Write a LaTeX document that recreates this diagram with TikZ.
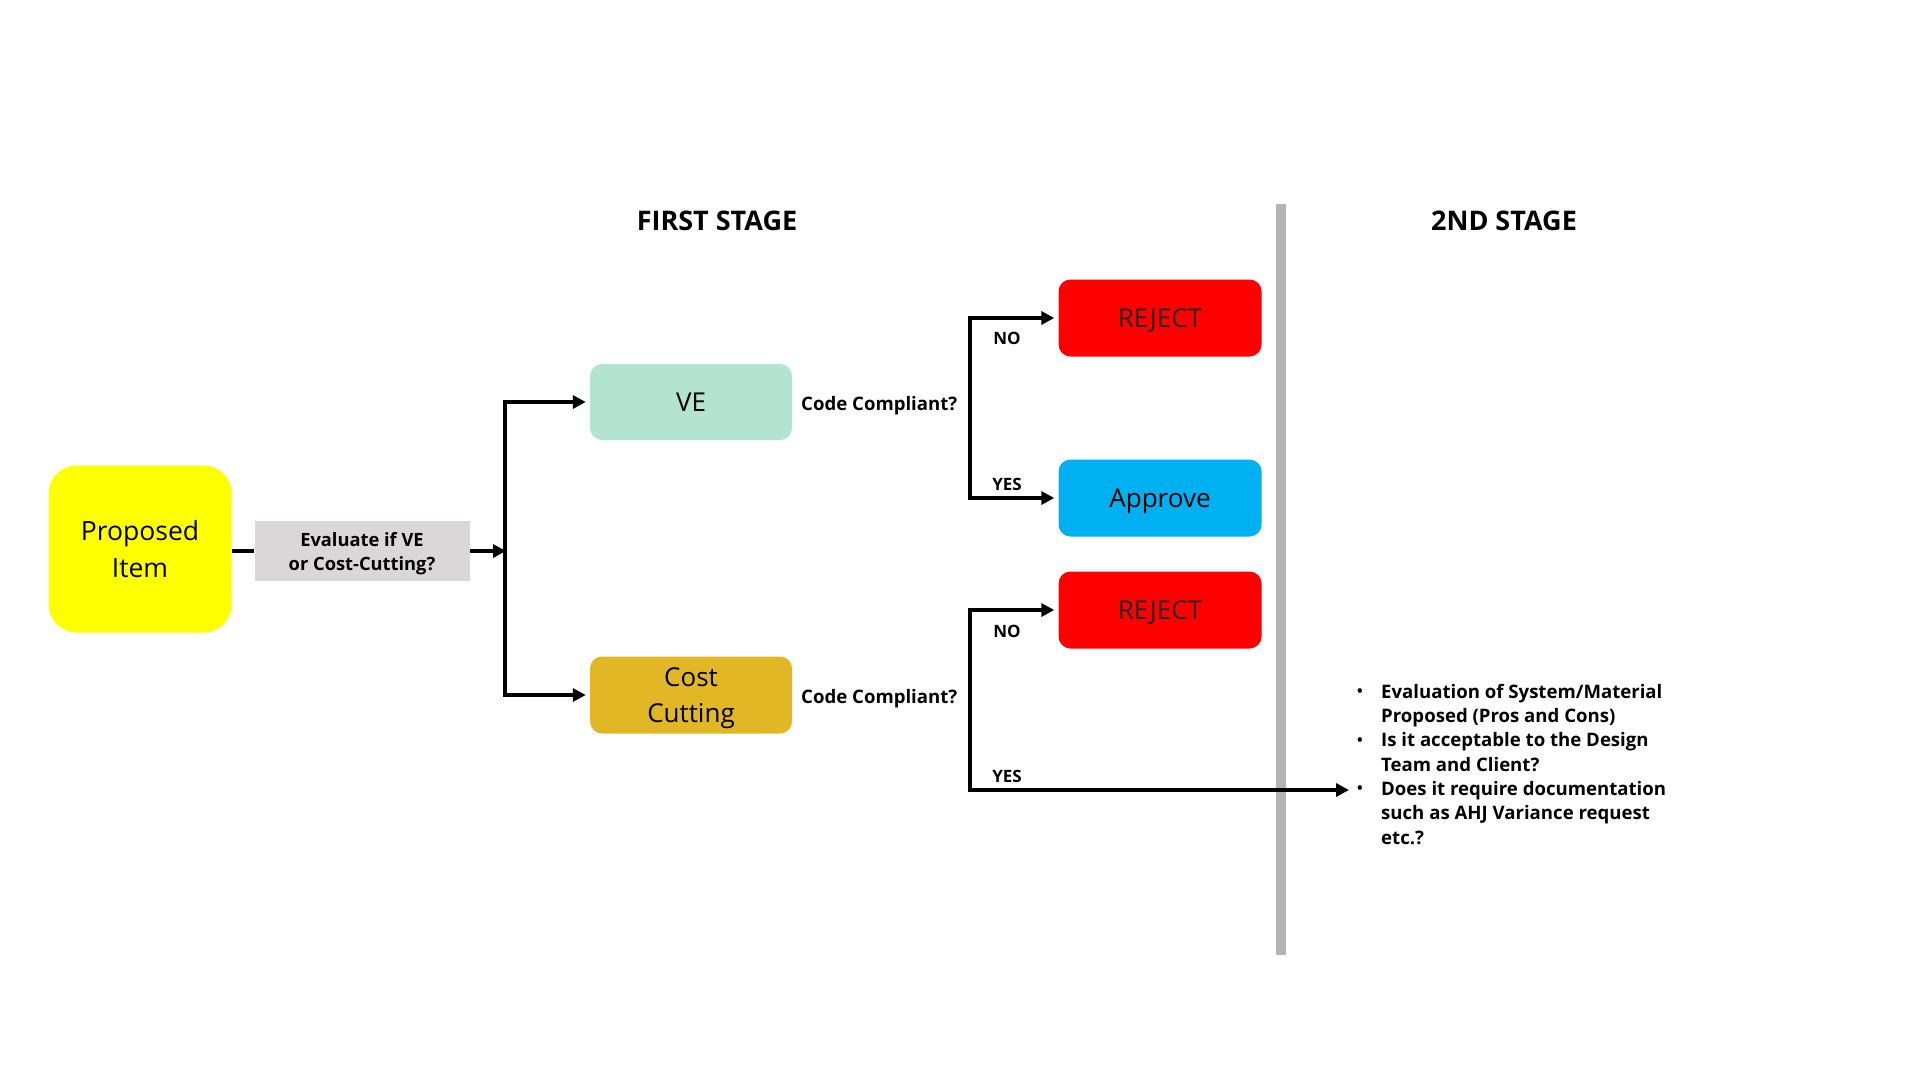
\documentclass[tikz,border=0pt]{standalone}
\usepackage{fontspec}
\setmainfont{Open Sans}
\usetikzlibrary{arrows.meta,calc}
\definecolor{propY}{HTML}{FFFF00}
\definecolor{veG}{HTML}{B3E4D1}
\definecolor{costY}{HTML}{E1B726}
\definecolor{rejR}{HTML}{FF0000}
\definecolor{appB}{HTML}{00B0F0}
\definecolor{evalG}{HTML}{D9D7D7}
\definecolor{divG}{HTML}{B4B4B4}
\tikzset{
  box/.style={draw=none, inner sep=0pt, align=center, rounded corners=12pt, text depth=0pt,
     minimum width=203pt, minimum height=77pt, font=\fontsize{26}{33}\selectfont},
  conn/.style={line width=3.6pt, draw=black},
  arr/.style={conn, -{Triangle[length=13pt,width=13pt]}, shorten >=4pt},
  lbl/.style={inner sep=0pt, font=\bfseries\fontsize{17}{21}\selectfont},
  cclbl/.style={inner sep=0pt, anchor=west, text depth=0pt, font=\bfseries\fontsize{18.6}{22}\selectfont},
  stage/.style={inner sep=0pt, font=\bfseries\fontsize{27}{32}\selectfont},
  bul/.style={},
}
\newcommand{\mybul}{\raisebox{1.5pt}{\fontsize{15}{15}\selectfont\textbullet}}
\begin{document}
\begin{tikzpicture}[x=1pt,y=-1pt]
\useasboundingbox[fill=white] (0,0) rectangle (1920,1080);

% divider
\draw[line width=10pt, divG] (1281,204) -- (1281,955);

% headings
\node[stage] (h1) at (717,221) {FIRST STAGE};
\node[stage] (h2) at (1504,221) {2ND STAGE};

% nodes
\node[box, fill=propY, minimum width=183pt, minimum height=167pt, rounded corners=28pt,
      font=\fontsize{26.5}{37}\selectfont] (prop) at (140,549) {Proposed\\Item};
\node[box, fill=evalG, rounded corners=0pt, minimum width=215pt, minimum height=60pt,
      font=\bfseries\fontsize{18.3}{24}\selectfont] (eval) at (362,551) {Evaluate if VE\\or Cost-Cutting?};
\node[box, fill=veG, minimum width=202pt, minimum height=76pt] (ve) at (691,402) {VE};
\node[box, fill=costY, minimum width=202pt, minimum height=77pt,
      font=\fontsize{26}{36}\selectfont] (cost) at (691,695) {Cost\\Cutting};
\node[box, fill=rejR, text=black!85] (rej1) at (1160,318) {REJECT};
\node[box, fill=appB] (app) at (1160,498) {Approve};
\node[box, fill=rejR, text=black!85] (rej2) at (1160,610) {REJECT};

\node[cclbl] (cc1) at (801,403) {Code Compliant?};
\node[cclbl] (cc2) at (801,696) {Code Compliant?};

% junctions
\coordinate (j1) at (505,551);
\coordinate (b1) at (970,403);
\coordinate (b2) at (970,696);
\coordinate (yesend) at (1349,790);

% connectors
\draw[conn] (prop.east |- eval.west) -- (eval.west);
\draw[arr, shorten >=-1pt] (eval.east) -- (j1);
\draw[arr] (j1) |- (ve.west);
\draw[arr] (j1) |- (cost.west);
\draw[arr] (b1) |- (rej1.west);
\draw[arr] (b1) |- (app.west);
\draw[arr] (b2) |- (rej2.west);
\draw[arr, shorten >=0pt] (b2) |- (yesend);

% branch labels
\node[lbl] (no1) at (1007,338) {NO};
\node[lbl] (yes1) at (1007,484) {YES};
\node[lbl] (no2) at (1007,631) {NO};
\node[lbl] (yes2) at (1007,776) {YES};

% bullet list
\node[anchor=north west, inner sep=0pt, align=left,
      font=\bfseries\fontsize{18.6}{24.3}\selectfont] (bullets) at (1357,681) {%
  \begin{tabular}{@{}p{10pt}@{\hspace{14pt}}l@{}}
  \mybul & Evaluation of System/Material\\
   & Proposed (Pros and Cons)\\
  \mybul & Is it acceptable to the Design\\
   & Team and Client?\\
  \mybul & Does it require documentation\\
   & such as AHJ Variance request\\
   & etc.?
  \end{tabular}};
\end{tikzpicture}
\end{document}
